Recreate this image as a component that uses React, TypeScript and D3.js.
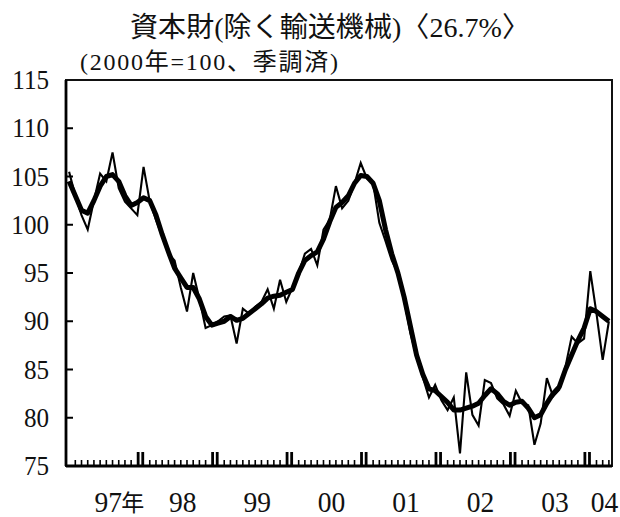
import React, { useRef, useEffect } from 'react';
import * as d3 from 'd3';

// monthly index, Jan 1997 - Apr 2004 (2000 = 100, seasonally adjusted)
const monthlyValues = [
  105.5, 103, 101, 99.5, 102.5, 105.3, 104.5, 107.5, 103.8, 102.4, 101.7, 101,
  106, 102.4, 100.5, 98.8, 97, 96.3, 93.5, 91, 95, 92.3, 89.3, 89.6,
  90, 90.5, 90.6, 87.7, 91.3, 90.8, 91.5, 92, 93.3, 91.3, 94.3, 92,
  93.5, 95, 97, 97.5, 95.8, 99.5, 100.5, 104, 101.7, 102.5, 104.3, 106.4,
  104.8, 104.3, 100.2, 98.3, 96.3, 95, 92.2, 88.8, 86.3, 84.2, 82.1, 83.4,
  81.8, 80.8, 82.1, 76.3, 84.7, 80.3, 79.2, 83.9, 83.6, 82, 81.4, 80.2,
  82.8, 81.5, 81.3, 77.2, 79.4, 84.1, 82.2, 82.9, 85.3, 88.4, 87.7, 88.2,
  95.2, 90.8, 86, 90,
];

// thick line (smoothed trend)
const trendValues = [
  104.5, 103, 101.5, 101.2, 102.5, 104, 105, 105.2, 104.5, 103, 102, 102.3,
  102.8, 102.5, 101, 99, 97.2, 95.5, 94.5, 93.5, 93.5, 92.3, 90.5, 89.6,
  89.8, 90, 90.5, 90.1, 90.3, 90.8, 91.3, 91.8, 92.4, 92.6, 92.7, 93,
  93.3, 95, 96.3, 96.8, 97.2, 98.5, 100.3, 101.8, 102.3, 103, 104.3, 105.1,
  105, 104.3, 102.5, 99.5, 97, 95, 92.5, 89.5, 86.5, 84.5, 83, 82.8,
  82.2, 81.6, 80.8, 80.8, 81, 81.2, 81.5, 82.3, 83, 82.5, 81.7, 81.3,
  81.6, 81.7, 81, 80, 80.3, 81.5, 82.5, 83.2, 85, 86.5, 88, 89.3,
  91.3, 91, 90.5, 90,
];

const yearList = [1997, 1998, 1999, 2000, 2001, 2002, 2003, 2004];
const yearLabels = ['97', '98', '99', '00', '01', '02', '03', '04'];
const yTicks = [75, 80, 85, 90, 95, 100, 105, 110, 115];

const titleText = '資本財(除く輸送機械)〈26.7%〉';
const subtitleText = '(2000年=100、季調済)';

const W = 620;
const H = 517;
const numFont = "'Liberation Serif', 'Noto Sans CJK JP', serif";

const App: React.FC = () => {
  const svgRef = useRef<SVGSVGElement>(null);

  useEffect(() => {
    if (!svgRef.current) return;
    const svg = d3.select(svgRef.current);
    svg.selectAll('*').remove();

    const margin = { top: 80, right: 8, bottom: 51, left: 66 };
    const left = margin.left;
    const right = W - margin.right;
    const top = margin.top;
    const bottom = H - margin.bottom;

    const months = d3.timeMonth.range(new Date(1997, 0, 1), new Date(2004, 4, 1));
    const x = d3.scaleBand<Date>().domain(months).range([left, right]).padding(0);
    const xc = (d: Date) => (x(d) as number) + x.bandwidth() / 2;
    const y = d3.scaleLinear().domain([75, 115]).range([bottom, top]);

    svg.append('rect').attr('width', W).attr('height', H).attr('fill', '#fff');

    // title
    svg.append('text')
      .attr('x', 130).attr('y', 37)
      .attr('font-family', numFont)
      .attr('font-size', 28)
      .attr('fill', '#111')
      .attr('textLength', 400)
      .attr('lengthAdjust', 'spacing')
      .text(titleText);
    svg.append('text')
      .attr('x', 80).attr('y', 70)
      .attr('font-family', numFont)
      .attr('font-size', 24)
      .attr('fill', '#111')
      .attr('textLength', 258)
      .attr('lengthAdjust', 'spacing')
      .text(subtitleText);

    // frame
    svg.append('rect')
      .attr('x', left).attr('y', top)
      .attr('width', right - left).attr('height', bottom - top)
      .attr('fill', 'none').attr('stroke', '#111').attr('stroke-width', 2);
    svg.append('line')
      .attr('x1', left).attr('x2', left).attr('y1', top).attr('y2', bottom)
      .attr('stroke', '#000').attr('stroke-width', 2.8);
    svg.append('line')
      .attr('x1', left).attr('x2', right).attr('y1', bottom).attr('y2', bottom)
      .attr('stroke', '#000').attr('stroke-width', 3);

    // y ticks + labels
    const yg = svg.append('g');
    yTicks.forEach((t) => {
      if (t !== 75 && t !== 115) {
        yg.append('line')
          .attr('x1', left).attr('x2', left + 7)
          .attr('y1', y(t)).attr('y2', y(t))
          .attr('stroke', '#000').attr('stroke-width', 2);
      }
      yg.append('text')
        .attr('transform', `translate(49,${y(t) + 9}) scale(0.93,1)`)
        .attr('text-anchor', 'end')
        .attr('font-family', numFont)
        .attr('font-size', 27)
        .attr('fill', '#111')
        .text(t);
    });

    // month ticks
    const tg = svg.append('g');
    months.forEach((m) => {
      const isEdge = m.getMonth() === 0 || m.getMonth() === 11;
      if (isEdge) return;
      tg.append('rect')
        .attr('x', xc(m) - 0.8).attr('y', bottom - 6)
        .attr('width', 1.6).attr('height', 6)
        .attr('fill', '#000');
    });
    yearList.slice(1).forEach((yr) => {
      const bx = x(new Date(yr, 0, 1)) as number;
      [-2.3, 2.3].forEach((o) => {
        tg.append('rect')
          .attr('x', bx + o - 1.4).attr('y', bottom - 14)
          .attr('width', 2.8).attr('height', 14)
          .attr('fill', '#000');
      });
    });

    // x labels
    const lg = svg.append('g');
    yearList.forEach((yr, i) => {
      const inYear = months.filter((m) => m.getFullYear() === yr);
      const x0 = x(inYear[0]) as number;
      const x1 = (x(inYear[inYear.length - 1]) as number) + x.bandwidth();
      const cx = (x0 + x1) / 2 + 5;
      lg.append('text')
        .attr('transform', `translate(${cx},512) scale(0.95,1)`)
        .attr('text-anchor', 'middle')
        .attr('font-family', numFont)
        .attr('font-size', 29)
        .attr('fill', '#111')
        .text(yearLabels[i]);
      if (i === 0) {
        lg.append('text')
          .attr('x', cx + 13).attr('y', 511)
          .attr('font-family', numFont)
          .attr('font-size', 23)
          .attr('fill', '#111')
          .text('年');
      }
    });

    // lines
    const line = d3.line<number>()
      .x((_, i) => xc(months[i]))
      .y((d) => y(d));

    svg.append('path')
      .datum(trendValues)
      .attr('fill', 'none')
      .attr('stroke', '#000')
      .attr('stroke-width', 5)
      .attr('stroke-linejoin', 'round')
      .attr('d', line);

    svg.append('path')
      .datum(monthlyValues)
      .attr('fill', 'none')
      .attr('stroke', '#000')
      .attr('stroke-width', 2.1)
      .attr('stroke-linejoin', 'miter')
      .attr('d', line);
  }, []);

  return (
    <svg
      ref={svgRef}
      width={W}
      height={H}
      style={{ position: 'absolute', left: 0, top: 0 }}
    />
  );
};

export default App;
